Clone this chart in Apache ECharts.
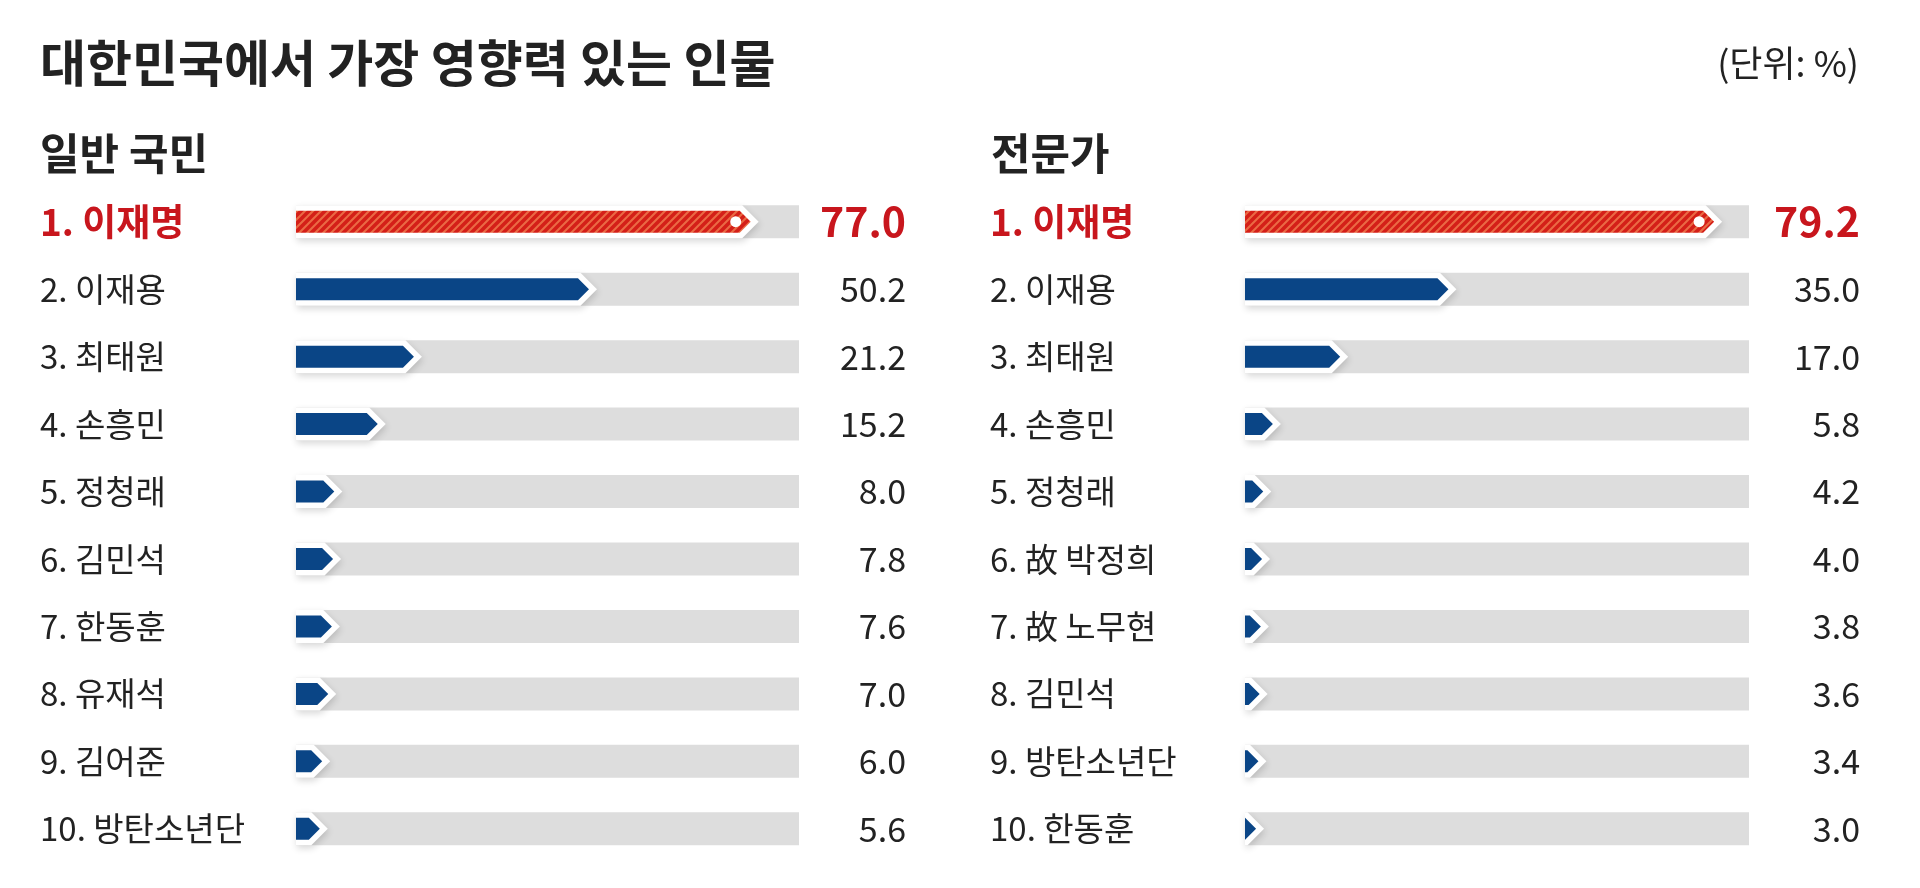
<!DOCTYPE html>
<html>
<head>
<meta charset="utf-8">
<script src="https://cdn.jsdelivr.net/npm/echarts@6/dist/echarts.min.js"></script>
<style>
html,body{margin:0;padding:0;background:#fff;}
#chart{width:1920px;height:888px;}
</style>
</head>
<body>
<div id="chart"></div>
<script>
// ---- data ----
const chartTitle = '대한민국에서 가장 영향력 있는 인물';
const unitText = '(단위: %)';
const panelTitles = ['일반 국민', '전문가'];
const generalNames = ['이재명','이재용','최태원','손흥민','정청래','김민석','한동훈','유재석','김어준','방탄소년단'];
const generalValues = [77.0,50.2,21.2,15.2,8.0,7.8,7.6,7.0,6.0,5.6];
const expertNames = ['이재명','이재용','최태원','손흥민','정청래','故 박정희','故 노무현','김민석','방탄소년단','한동훈'];
const expertValues = [79.2,35.0,17.0,5.8,4.2,4.0,3.8,3.6,3.4,3.0];
const axisMax = 85;

// ---- styles ----
const FONT = '"Noto Sans CJK KR", "Noto Sans", sans-serif';
const RED = '#c8161d';
const BLUE = '#0a4586';
const TRACK = '#dddddd';
const TEXT = '#222222';

function makeHatch() {
  const c = document.createElement('canvas');
  c.width = 8; c.height = 8;
  const g = c.getContext('2d');
  g.fillStyle = '#ea6a44';
  g.fillRect(0, 0, 8, 8);
  g.strokeStyle = '#d41f18';
  g.lineWidth = 3.6;
  g.lineCap = 'square';
  [[-4, 4, 4, -4], [0, 8, 8, 0], [4, 12, 12, 4]].forEach(function (s) {
    g.beginPath(); g.moveTo(s[0], s[1]); g.lineTo(s[2], s[3]); g.stroke();
  });
  return c;
}
const hatch = makeHatch();

const chart = echarts.init(document.getElementById('chart'), null, {renderer: 'canvas'});

function labelsOf(names) { return names.map(function (n, i) { return (i + 1) + '. ' + n; }); }

function makeRenderItem(startOff) {
  return function (params, api) {
    const cs = params.coordSys;
    const x0 = cs.x + startOff;
    const xR = cs.x + cs.width;
    const p = api.coord([api.value(0), api.value(1)]);
    const end = p[0], y = p[1];
    const idx = params.dataIndex;
    const TH = 16.5, BH = 11, WEXT = 8;
    const children = [];
    children.push({type: 'rect', shape: {x: x0, y: y - TH, width: xR - x0, height: TH * 2}, style: {fill: TRACK}});
    const wt = end + WEXT;
    const wk = Math.max(x0, wt - TH);
    const wh = Math.min(TH, wt - x0);
    children.push({type: 'polygon', shape: {points: [[x0, y - wh], [wk, y - wh], [wt, y], [wk, y + wh], [x0, y + wh]]},
      style: {fill: '#ffffff', shadowBlur: 7, shadowOffsetY: 3, shadowOffsetX: 1, shadowColor: 'rgba(0,0,0,0.16)'}});
    const bk = Math.max(x0, end - BH);
    const bh = Math.min(BH, end - x0);
    const fill = idx === 0 ? {image: hatch, repeat: 'repeat'} : BLUE;
    children.push({type: 'polygon', shape: {points: [[x0, y - bh], [bk, y - bh], [end, y], [bk, y + bh], [x0, y + bh]]},
      style: {fill: fill}});
    if (idx === 0) {
      children.push({type: 'circle', shape: {cx: end - 15, cy: y, r: 5.5}, style: {fill: '#ffffff'}});
    }
    return {type: 'group', children: children};
  };
}

const gridTop = 188, gridH = 674.5;
const grids = [
  {left: 286, top: gridTop, width: 513, height: gridH},
  {left: 1238, top: gridTop, width: 511, height: gridH}
];
const labelRich = {
  t: {fontFamily: FONT, fontSize: 37, fontWeight: 'bold', color: RED},
  n: {fontFamily: FONT, fontSize: 33, color: TEXT}
};
const valRich = {
  t: {fontFamily: FONT, fontSize: 41, fontWeight: 'bold', color: RED},
  n: {fontFamily: FONT, fontSize: 34, color: TEXT}
};
function fmt(v, i) { return i === 0 ? '{t|' + v + '}' : '{n|' + v + '}'; }

const panels = [
  {names: generalNames, values: generalValues, startOff: 10, labelMargin: 246, valMargin: 107},
  {names: expertNames, values: expertValues, startOff: 7, labelMargin: 248, valMargin: 111}
];

const xAxes = [], yAxes = [], series = [];
panels.forEach(function (pn, k) {
  xAxes.push({type: 'value', gridIndex: k, min: 0, max: axisMax, show: false});
  yAxes.push({type: 'category', gridIndex: k, inverse: true, position: 'left', data: labelsOf(pn.names),
    axisLine: {show: false}, axisTick: {show: false}, splitLine: {show: false},
    axisLabel: {align: 'left', margin: pn.labelMargin, formatter: fmt, rich: labelRich}});
  yAxes.push({type: 'category', gridIndex: k, inverse: true, position: 'right',
    data: pn.values.map(function (v) { return v.toFixed(1); }),
    axisLine: {show: false}, axisTick: {show: false}, splitLine: {show: false},
    axisLabel: {align: 'right', margin: pn.valMargin, formatter: fmt, rich: valRich}});
  series.push({type: 'custom', xAxisIndex: k, yAxisIndex: k * 2, renderItem: makeRenderItem(pn.startOff),
    encode: {x: 0, y: 1}, data: pn.values.map(function (v, i) { return [v, i]; }), silent: true});
});

chart.setOption({
  backgroundColor: '#ffffff',
  animation: false,
  title: [
    {text: chartTitle, left: 35, top: 33, textStyle: {fontFamily: FONT, fontSize: 50, fontWeight: 'bold', color: TEXT}},
    {text: unitText, right: 56, top: 40, textStyle: {fontFamily: FONT, fontSize: 36, fontWeight: 'normal', color: TEXT}},
    {text: panelTitles[0], left: 35, top: 127, textStyle: {fontFamily: FONT, fontSize: 43, fontWeight: 'bold', color: TEXT}},
    {text: panelTitles[1], left: 986, top: 127, textStyle: {fontFamily: FONT, fontSize: 43, fontWeight: 'bold', color: TEXT}}
  ],
  grid: grids,
  xAxis: xAxes,
  yAxis: yAxes,
  series: series
});
</script>
</body>
</html>
